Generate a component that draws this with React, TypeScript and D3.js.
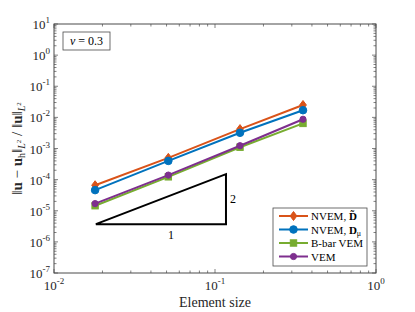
import React from 'react';
import * as d3 from 'd3';

// element sizes (x) and relative L2 errors for each method
const sizes = [0.018, 0.0513, 0.143, 0.352];
const nvemTilde = [6.6e-5, 5.0e-4, 4.2e-3, 2.5e-2];
const nvemMu = [4.6e-5, 4.0e-4, 3.2e-3, 1.7e-2];
const bbarVem = [1.45e-5, 1.23e-4, 1.1e-3, 6.4e-3];
const vem = [1.7e-5, 1.4e-4, 1.23e-3, 8.7e-3];

const xMajor = [-2, -1, 0];
const yMajor = [-7, -6, -5, -4, -3, -2, -1, 0, 1];

// slope triangle corners (data coords)
const triX = [0.0182, 0.117];
const triY = [3.7e-6, 1.5e-4];

const series = [
  { key: 'tilde', vals: nvemTilde, color: '#D95319', marker: 'diamond' },
  { key: 'mu', vals: nvemMu, color: '#0072BD', marker: 'circle' },
  { key: 'bbar', vals: bbarVem, color: '#77AC30', marker: 'square' },
  { key: 'vem', vals: vem, color: '#7E2F8E', marker: 'dot' },
];

const W = 415, H = 312;
const L = 54, R = 376, T = 24, B = 273;
const font = '"Liberation Serif", "DejaVu Serif", serif';
const axisCol = '#4a4a4a';

function Marker({ type, x, y, color }: any) {
  if (type === 'diamond') {
    const s = 4.5;
    return <path d={`M${x},${y - s}L${x + s * 0.75},${y}L${x},${y + s}L${x - s * 0.75},${y}Z`} fill={color} stroke={color} strokeWidth={1} />;
  }
  if (type === 'square') {
    return <rect x={x - 3.2} y={y - 3.2} width={6.4} height={6.4} fill={color} stroke={color} />;
  }
  if (type === 'circle') return <circle cx={x} cy={y} r={3.8} fill={color} stroke={color} />;
  return <circle cx={x} cy={y} r={3.1} fill={color} stroke={color} />;
}

export default function App() {
  const x = d3.scaleLog().domain([1e-2, 1]).range([L, R]);
  const y = d3.scaleLog().domain([1e-7, 10]).range([B, T]);
  const line = d3.line<[number, number]>().x(d => x(d[0])).y(d => y(d[1]));

  const xMinor = x.ticks().filter(t => Math.abs(Math.log10(t) - Math.round(Math.log10(t))) > 1e-6);
  const yMinor = y.ticks().filter(t => Math.abs(Math.log10(t) - Math.round(Math.log10(t))) > 1e-6);

  const legendItems = [
    { s: series[0], label: <><tspan>NVEM, </tspan><tspan fontWeight="bold">D&#x303;</tspan></> },
    { s: series[1], label: <><tspan>NVEM, </tspan><tspan fontWeight="bold">D</tspan><tspan fontSize="8" dy="2.5">μ</tspan></> },
    { s: series[2], label: <tspan>B-bar VEM</tspan> },
    { s: series[3], label: <tspan>VEM</tspan> },
  ];

  return (
    <svg width={W} height={H} style={{ position: 'absolute', left: 0, top: 0, background: '#fff' }} fontFamily={font}>
      <rect x={0} y={0} width={W} height={H} fill="#fff" />

      {/* ticks */}
      <g stroke={axisCol} strokeWidth={0.7}>
        {xMinor.map((t, i) => (
          <g key={'xm' + i}>
            <line x1={x(t)} x2={x(t)} y1={B} y2={B - 2.5} />
            <line x1={x(t)} x2={x(t)} y1={T} y2={T + 2.5} />
          </g>
        ))}
        {xMajor.map(e => (
          <g key={'xM' + e}>
            <line x1={x(10 ** e)} x2={x(10 ** e)} y1={B} y2={B - 4} />
            <line x1={x(10 ** e)} x2={x(10 ** e)} y1={T} y2={T + 4} />
          </g>
        ))}
        {yMinor.map((t, i) => (
          <g key={'ym' + i}>
            <line x1={L} x2={L + 2.5} y1={y(t)} y2={y(t)} />
            <line x1={R} x2={R - 2.5} y1={y(t)} y2={y(t)} />
          </g>
        ))}
        {yMajor.map(e => (
          <g key={'yM' + e}>
            <line x1={L} x2={L + 4} y1={y(10 ** e)} y2={y(10 ** e)} />
            <line x1={R} x2={R - 4} y1={y(10 ** e)} y2={y(10 ** e)} />
          </g>
        ))}
      </g>
      <rect x={L} y={T} width={R - L} height={B - T} fill="none" stroke={axisCol} strokeWidth={1} />

      {/* tick labels */}
      <g fill="#262626" fontSize={13}>
        {xMajor.map(e => (
          <text key={'xl' + e} x={x(10 ** e)} y={B + 17} textAnchor="middle">
            10<tspan fontSize={9} dy={-6}>{e}</tspan>
          </text>
        ))}
        {yMajor.map(e => (
          <text key={'yl' + e} x={L - 4} y={y(10 ** e) + 5} textAnchor="end">
            10<tspan fontSize={9} dy={-6}>{e}</tspan>
          </text>
        ))}
      </g>

      {/* axis labels */}
      <text x={(L + R) / 2} y={307} textAnchor="middle" fontSize={14} fill="#262626">Element size</text>
      <text transform={`translate(22,${(T + B) / 2}) rotate(-90)`} textAnchor="middle" fontSize={15} fill="#262626">
        <tspan>‖</tspan><tspan fontWeight="bold">u</tspan><tspan> − </tspan><tspan fontWeight="bold">u</tspan>
        <tspan fontSize={10} dy={3}>h</tspan><tspan dy={-3}>‖</tspan>
        <tspan fontSize={10} fontStyle="italic" dy={3}>L</tspan><tspan fontSize={7} dy={-4}>2</tspan>
        <tspan dy={1}> / ‖</tspan><tspan fontWeight="bold">u</tspan><tspan>‖</tspan>
        <tspan fontSize={10} fontStyle="italic" dy={3}>L</tspan><tspan fontSize={7} dy={-4}>2</tspan>
      </text>

      {/* slope triangle */}
      <path
        d={`M${x(triX[0])},${y(triY[0])}L${x(triX[1])},${y(triY[0])}L${x(triX[1])},${y(triY[1])}Z`}
        fill="none" stroke="#000" strokeWidth={2}
      />
      <text x={(x(triX[0]) + x(triX[1])) / 2 + 10} y={y(triY[0]) + 15} textAnchor="middle" fontSize={12}>1</text>
      <text x={x(triX[1]) + 4} y={(y(triY[0]) + y(triY[1])) / 2 + 4} fontSize={12}>2</text>

      {/* series */}
      {series.map(s => {
        const pts = sizes.map((h, i) => [h, s.vals[i]] as [number, number]);
        return (
          <g key={s.key}>
            <path d={line(pts) || ''} fill="none" stroke={s.color} strokeWidth={2} />
            {pts.map((p, i) => <Marker key={i} type={s.marker} x={x(p[0])} y={y(p[1])} color={s.color} />)}
          </g>
        );
      })}

      {/* nu box */}
      <rect x={63} y={32} width={47} height={18} fill="#fff" stroke={axisCol} strokeWidth={0.8} />
      <text x={86.5} y={45} textAnchor="middle" fontSize={12}>
        <tspan fontStyle="italic">ν</tspan> = 0.3
      </text>

      {/* legend */}
      <rect x={273} y={208} width={94} height={58} fill="#fff" stroke={axisCol} strokeWidth={0.8} />
      {legendItems.map((it, i) => {
        const ly = 216 + i * 13.5;
        return (
          <g key={i}>
            <line x1={279} x2={308} y1={ly} y2={ly} stroke={it.s.color} strokeWidth={2} />
            <Marker type={it.s.marker} x={293.5} y={ly} color={it.s.color} />
            <text x={311} y={ly + 4} fontSize={11}>{it.label}</text>
          </g>
        );
      })}
    </svg>
  );
}
